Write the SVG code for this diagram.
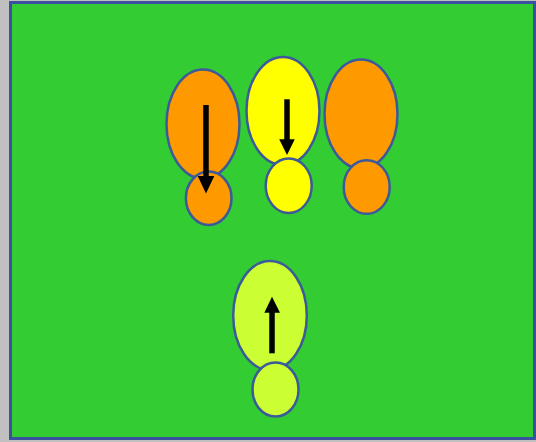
<svg xmlns="http://www.w3.org/2000/svg" width="536" height="442" viewBox="0 0 536 442">
<style>
.e{stroke:#3c5a9a;stroke-width:2.5}
.o{fill:#ff9900}
.y{fill:#ffff00}
.l{fill:#ccff33}
.s{stroke:#000;stroke-width:5.5;fill:none}
</style>
<rect x="0" y="0" width="536" height="442" fill="#c0c0c0"/>
<rect x="10.5" y="2.5" width="524" height="436" fill="#33cc33" stroke="#3a50a0" stroke-width="3"/>
<g id="node1">
<ellipse class="e o" cx="203" cy="124" rx="36.5" ry="54.5"/>
<ellipse class="e o" cx="208.7" cy="198.3" rx="22.8" ry="26.7"/>
</g>
<g id="node2">
<ellipse class="e y" cx="283" cy="111" rx="36.5" ry="54"/>
<ellipse class="e y" cx="288.7" cy="185.8" rx="23" ry="27.2"/>
</g>
<g id="node3">
<ellipse class="e o" cx="361" cy="114" rx="36.5" ry="54.5"/>
<ellipse class="e o" cx="366.7" cy="187" rx="23" ry="26.8"/>
</g>
<g id="node4">
<ellipse class="e l" cx="270" cy="315.5" rx="36.8" ry="54.5"/>
<ellipse class="e l" cx="275.5" cy="389.5" rx="23" ry="27"/>
</g>
<g id="connectors">
<path class="s" d="M206,105 V177"/>
<path d="M197.7,176 L214.3,176 L206,193.5 Z" fill="#000"/>
<path class="s" d="M287,99.3 V140"/>
<path d="M279.2,139.3 L294.8,139.3 L287,155 Z" fill="#000"/>
<path class="s" d="M272,353.3 V312"/>
<path d="M264.3,312.7 L280,312.7 L272,296.7 Z" fill="#000"/>
</g>
</svg>
